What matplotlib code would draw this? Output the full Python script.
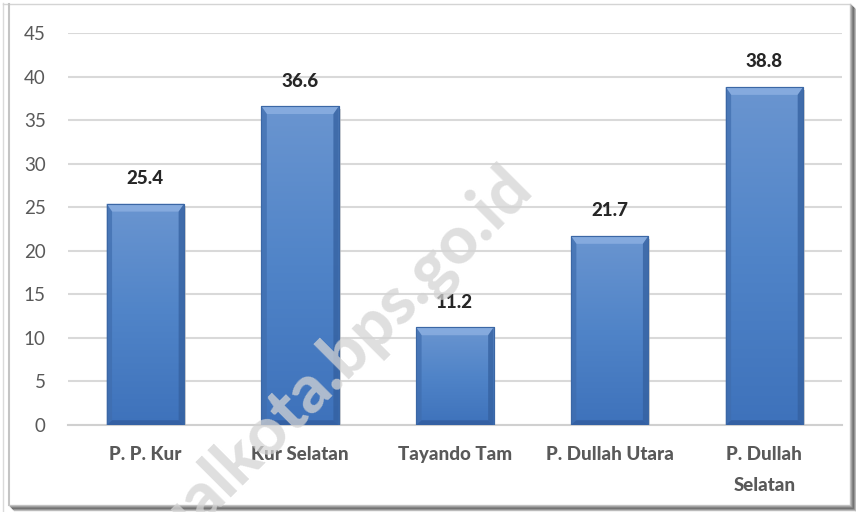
import numpy as np
import matplotlib.pyplot as plt
from matplotlib.patches import Rectangle, Polygon
from matplotlib.lines import Line2D
from matplotlib.colors import LinearSegmentedColormap

categories = ["P. P. Kur", "Kur Selatan", "Tayando Tam", "P. Dullah Utara", "P. Dullah\nSelatan"]
values = [25.4, 36.6, 11.2, 21.7, 38.8]
yticks = [0, 5, 10, 15, 20, 25, 30, 35, 40, 45]

plt.rcParams['font.family'] = ['Lato', 'DejaVu Sans']

W, H = 856, 512
fig = plt.figure(figsize=(W / 100, H / 100), dpi=100)
ax = fig.add_axes([0.0794, 0.170, 0.904, 0.7655])

x = np.arange(len(categories))
bars = ax.bar(x, values, width=0.5, color="#4F81C4", edgecolor="#3B67A5", linewidth=0.8, zorder=3)

# vertical gradient: lighter at the top, darker at the bottom
cmap = LinearSegmentedColormap.from_list("barblue", ["#3E72BB", "#5084C8", "#6A95D0"])
dy = 0.9     # bevel height (data units)
dx = 0.035   # bevel width (data units)
for b in bars:
    x0, w, h = b.get_x(), b.get_width(), b.get_height()
    g = np.linspace(0, 1, 128).reshape(-1, 1)
    im = ax.imshow(g, extent=[x0, x0 + w, 0, h], origin="lower", cmap=cmap,
                   aspect="auto", zorder=3.2)
    im.set_clip_path(b)
    # bevel: light top, darker sides and bottom
    ax.add_patch(Polygon([(x0, h), (x0 + w, h), (x0 + w - dx, h - dy), (x0 + dx, h - dy)],
                         closed=True, facecolor="#8DB0E2", edgecolor="none", alpha=0.8, zorder=3.4))
    ax.add_patch(Polygon([(x0, 0), (x0, h), (x0 + dx, h - dy), (x0 + dx, dy * 0.6)],
                         closed=True, facecolor="#3F6DAE", edgecolor="none", alpha=0.7, zorder=3.4))
    ax.add_patch(Polygon([(x0 + w, 0), (x0 + w, h), (x0 + w - dx, h - dy), (x0 + w - dx, dy * 0.6)],
                         closed=True, facecolor="#34609F", edgecolor="none", alpha=0.75, zorder=3.4))
    ax.add_patch(Polygon([(x0, 0), (x0 + w, 0), (x0 + w - dx, dy * 0.6), (x0 + dx, dy * 0.6)],
                         closed=True, facecolor="#30599A", edgecolor="none", alpha=0.7, zorder=3.4))
    ax.add_patch(Rectangle((x0, 0), w, h, facecolor="none", edgecolor="#3B67A5",
                           linewidth=0.8, zorder=3.6))
    # soft shadow on the right
    ax.add_patch(Rectangle((x0 + w, 0), 0.012, h - 0.3, facecolor="#BBBBBB", edgecolor="none",
                           alpha=0.6, zorder=2.9))
    ax.annotate(f"{h:.1f}", (x0 + w / 2, h), xytext=(0, 12), textcoords="offset points",
                ha="center", va="bottom", fontsize=13.5, fontweight="black", color="#262626",
                zorder=12)

ax.set_ylim(0, 45)
ax.set_xlim(-0.5, len(categories) - 0.5)
ax.set_yticks(yticks)
ax.set_xticks(x)
ax.set_xticklabels(categories, fontsize=13.5, fontweight="black", color="#595959", linespacing=2.0)
ax.tick_params(axis="y", length=0, pad=16, labelsize=13.5, labelcolor="#595959")
ax.tick_params(axis="x", length=0, pad=15)
for lab in ax.get_xticklabels():
    lab.set_verticalalignment("top")
ax.yaxis.grid(True, color="#D9D9D9", linewidth=1.5, zorder=0)
ax.set_axisbelow(True)
for s in ["top", "right", "left"]:
    ax.spines[s].set_visible(False)
ax.spines["bottom"].set_color("#D0D0D0")
ax.spines["bottom"].set_linewidth(1.5)


def fline(xs, ys, color, lw=1.0):
    fig.add_artist(Line2D([v / W for v in xs], [1 - v / H for v in ys], transform=fig.transFigure,
                          color=color, linewidth=lw, zorder=1))


# chart frame: light lines top/left, gradient shadow right/bottom
fline([3.5, 3.5], [3, 511], "#DADADA")
fline([3, 850], [4, 4], "#D4D4D4")
fline([9, 9], [4, 505], "#C4C4C4", 1.5)
shadow = ["#C8C8C8", "#A8A8A8", "#8A8A8A", "#6E6E6E", "#8C8C8C", "#BBBBBB"]
for i, c in enumerate(shadow):
    fline([850 + i, 850 + i], [4 + i, 505 + i], c)
    fline([9 + i, 850 + i], [505 + i, 505 + i], c)

# watermark
fig.text(522 / W, 1 - 180 / H, "tualkota.bps.go.id", transform=fig.transFigure,
         fontsize=48, fontweight="black", color="#D4D4D4", alpha=0.75,
         rotation=45, rotation_mode="anchor", ha="right", va="center", zorder=10)

fig.savefig("out.png", dpi=100)
